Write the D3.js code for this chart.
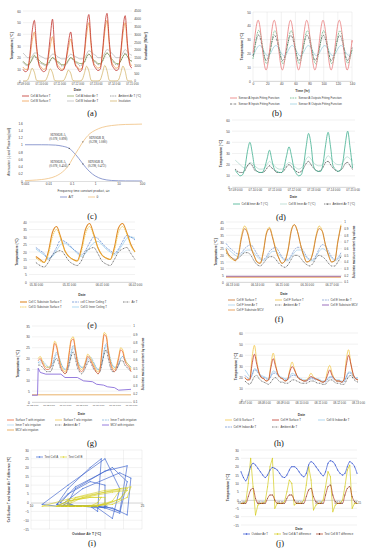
<!DOCTYPE html>
<html>
<head>
<meta charset="utf-8">
<script src="https://cdn.jsdelivr.net/npm/d3@7/dist/d3.min.js"></script>
<style>
  body { margin: 0; background: #fff; }
  svg { display: block; font-family: "Liberation Sans", Arial, sans-serif; }
</style>
</head>
<body>
<svg id="fig" width="371" height="550"></svg>
<script>
// ---------------- data ----------------
// shared 3-hourly time grid (hours from first date label)
var dayHours6 = [0, 24, 48, 72, 96, 120, 144];

// (a) cells A/B, 07-09 .. 07-15
var aDateLabels = ["07-09 0:00", "07-10 0:00", "07-11 0:00", "07-12 0:00", "07-13 0:00", "07-14 0:00", "07-15 0:00"];
var aTempTicks = [0, 10, 20, 30, 40, 50, 60];
var aInsolTicks = [0, 500, 1000, 1500, 2000, 2500, 3000, 3500, 4000, 4500];
var aSurfA = [10,8,9,22,42,52,30,14, 10,8,9,20,38,53,26,13, 10,9,10,19,33,42,27,14,
              11,8,10,24,46,57,33,15, 11,9,10,25,47,58,34,15, 11,9,10,24,45,56,32,14, 11];
var aSurfB = [12,10,10,19,34,42,27,15, 12,10,11,18,30,38,24,15, 12,10,11,18,28,36,25,15,
              12,10,11,22,40,50,30,16, 13,11,12,23,42,52,31,17, 13,11,12,22,40,50,29,16, 13];
var aIndoorA = [17,15,14,15,19,22,20,18, 16,15,14,15,18,20,19,17, 16,14,14,15,18,20,19,17,
                16,15,15,16,21,23,21,18, 17,15,15,17,22,24,22,19, 17,15,15,17,21,23,21,18, 17];
var aIndoorB = [24,22,20,20,21,24,24,22, 21,20,19,19,21,23,23,21, 20,19,19,19,21,23,22,21,
                20,19,19,20,23,26,25,23, 22,20,20,21,24,27,26,24, 22,20,20,21,24,27,25,23, 22];
var aAmbient = [16,14,13,15,18,21,19,16, 15,14,13,14,17,20,18,16, 15,13,13,14,17,20,18,16,
                15,13,14,16,20,23,21,17, 16,14,14,17,21,24,22,18, 16,14,14,17,21,24,21,18, 17];
var aInsolation = [0,0,60,420,820,560,40,0, 0,0,50,380,780,520,30,0, 0,0,50,350,700,500,30,0,
                   0,0,70,480,950,640,50,0, 0,0,70,500,1000,660,50,0, 0,0,60,470,960,620,40,0, 0];

// (b) fitting functions
var bTicksX = [0, 20, 40, 60, 80, 100, 120, 140];
var bTicksY = [0, 10, 20, 30, 40, 50];
var bTime = [0, 1.25, 7, 12.75, 18.5, 24.25, 30, 35.75, 41.5, 47.25, 53, 58.75, 64.5, 70.25, 76,
             81.75, 87.5, 93.25, 99, 104.75, 110.5, 116.25, 122, 127.75, 133.5, 139.25, 140];
var bSensorAIn  = [20,26, 44,26,8,26, 44,26,8,26, 44,26,8,26, 44,26,8,26, 44,26,8,26, 44,26,8,26, 28];
var bSensorAOut = [17,19.5, 36,28,13,21, 36,28,13,21, 36,28,13,21, 36,28,13,21, 36,28,13,21, 36,28,13,21, 22];
var bSensorBIn  = [18.5,21, 33,25.5,15,22.5, 33,25.5,15,22.5, 33,25.5,15,22.5, 33,25.5,15,22.5, 33,25.5,15,22.5, 33,25.5,15,22.5, 23.5];
var bSensorBOut = [19.5,19.5, 25,24.3,19,19.7, 25,24.3,19,19.7, 25,24.3,19,19.7, 25,24.3,19,19.7, 25,24.3,19,19.7, 25,24.3,19,19.7, 20];

// (c) attenuation and phase lag
var cTicksX = [0.001, 0.01, 0.1, 1, 10, 100];
var cTickLabelsX = ["0.001", "0.01", "0.1", "1", "10", "100"];
var cTicksY = [0, 0.2, 0.4, 0.6, 0.8, 1, 1.2, 1.4, 1.6];
var cOmegaTau = [0.001, 0.002, 0.005, 0.01, 0.02, 0.04, 0.078, 0.1, 0.15, 0.2, 0.298, 0.4, 0.6, 1, 2, 5, 10, 20, 50, 100];
var cAttenuation = [1.0, 1.0, 1.0, 0.998, 0.99, 0.96, 0.898, 0.84, 0.72, 0.62, 0.472, 0.37, 0.25, 0.14, 0.055, 0.015, 0.005, 0.002, 0.001, 0];
var cPhaseLag = [0.01, 0.02, 0.04, 0.07, 0.13, 0.25, 0.456, 0.58, 0.77, 0.9, 1.08, 1.19, 1.31, 1.40, 1.48, 1.53, 1.55, 1.56, 1.565, 1.57];
var cNotes = [
  { sensor: "SENSOR A,", coord: "(0.078, 0.898)", wt: 0.078, v: 0.898 },
  { sensor: "SENSOR B,", coord: "(0.298, 1.080)", wt: 0.298, v: 1.080 },
  { sensor: "SENSOR A,", coord: "(0.078, 0.456)", wt: 0.078, v: 0.456 },
  { sensor: "SENSOR B,", coord: "(0.298, 0.472)", wt: 0.298, v: 0.472 }
];

// (d) inner air, 07-09 .. 07-15
var dDateLabels = aDateLabels;
var dTicksY = [0, 10, 20, 30, 40, 50, 60];
var dCellA = [15,12,10,11,18,32,40,30, 17,14,13,13,17,25,33,24, 16,14,13,13,18,28,36,28,
              17,12,10,11,20,36,48,38, 19,15,14,14,22,38,49,36, 19,16,14,15,22,38,50,35, 17];
var dCellB = [24,22,20,18,17,19,22,21, 19,17,16,16,17,20,23,21, 19,17,16,16,17,20,22,21,
              19,17,16,17,20,25,27,25, 22,20,19,19,21,25,28,26, 23,21,20,20,22,26,27,25, 24];
var dAmbient = [16,14,13,13,15,19,21,19, 15,14,13,13,14,17,19,17, 15,13,13,13,15,18,20,18,
                16,14,13,14,17,21,23,20, 17,15,14,15,18,22,23,20, 17,15,14,15,17,21,22,19, 16];

// (e) cells C/D, 05-30 .. 06-02
var eDateLabels = ["05-30 0:00", "05-31 0:00", "06-01 0:00", "06-02 0:00"];
var eTicksY = [0, 5, 10, 15, 20, 25, 30, 35, 40];
var eSurfC = [17,15,13,20,33,37,30,21, 17,15,14,22,35,39,32,23, 18,16,15,23,36,39,33,25, 20];
var eSurfD = [16,14,13,18,30,35,29,21, 17,15,14,20,32,37,31,23, 18,16,15,21,33,37,32,24, 20];
var eCeilC = [23,21,19,15,18,23,28,27, 25,22,20,18,21,26,30,29, 26,23,21,19,22,27,31,30, 28];
var eCeilD = [22,20,18,16,17,21,25,26, 24,22,19,17,19,23,26,27, 25,22,20,18,21,25,29,30, 29];
var eAir   = [13,11,10,13,18,20,21,18, 14,12,11,14,20,22,23,19, 14,12,11,15,20,22,23,19, 15];

// (f) cells E/F, 06-12 18:00 .. 06-17 09:00
var fDateLabels = ["06-13 0:00", "06-14 0:00", "06-15 0:00", "06-16 0:00", "06-17 0:00"];
var fDateHours = [0, 24, 48, 72, 96];
var fTicksY = [0, 5, 10, 15, 20, 25, 30, 35, 40, 45];
var fTicksMcv = [0.1, 0.2, 0.3, 0.4, 0.5, 0.6, 0.7, 0.8, 0.9, 1];
var fSurfE = [25,20,18,16,20,33,40,36,26,20, 15,14,22,36,40,33,24,18, 14,16,24,38,43,38,28,20,
              15,16,22,34,40,38,28,20, 15,16,30,42];
var fSurfF = [24,19,17,16,21,35,42,37,27,20, 15,14,23,37,41,34,25,18, 14,16,25,39,43,38,28,20,
              15,16,23,35,42,38,28,20, 15,16,31,43];
var fInnerE = [29,26,24,22,21,22,25,27,28,25, 21,18,17,19,23,25,26,23, 19,17,17,20,24,26,26,23,
               19,17,17,20,25,28,27,23, 19,17,18,22];
var fInnerF = [26,24,22,20,19,21,23,24,24,22, 19,17,16,18,21,23,23,21, 18,16,16,19,22,24,24,21,
               18,16,16,19,23,25,24,21, 18,16,17,20];
var fAmbient = [22,20,18,17,18,20,22,22,20,16, 13,12,14,17,19,19,17,14, 12,11,13,17,20,20,18,15,
                13,12,14,18,20,19,17,14, 12,12,15,19];
var fMcvHours = [-6, 105];
var fMcvE = [0.185, 0.185];
var fMcvF = [0.172, 0.172];

// (g) irrigation, 07-02 .. 07-08
var gDateLabels = ["07-02 0:00", "07-03 0:00", "07-04 0:00", "07-05 0:00", "07-06 0:00", "07-07 0:00", "07-08 0:00"];
var gTicksY = [0, 5, 10, 15, 20, 25, 30, 35];
var gTicksMcv = [0.1, 0.2, 0.3, 0.4, 0.5, 0.6, 0.7, 0.8, 0.9, 1];
var gSurfIrr = [null,null,null,19,20,18,16,15, 15,16,22,27,25,20,16,14, 13,15,22,28,29,24,18,15,
                14,15,18,21,20,18,16,14, 13,15,24,31,30,23,18,15, 14,16,20,24,23,19,17,16, 14];
var gSurfNo  = [null,null,null,20,21,19,17,16, 16,17,23,28,26,21,17,15, 14,16,23,29,30,25,19,16,
                15,16,19,22,21,19,17,15, 14,16,25,32,31,24,19,16, 15,17,21,25,24,20,18,17, 15];
var gInnerIrr = [null,null,null,18,19,19,18,17, 16,16,18,21,23,21,18,16, 15,16,19,23,26,24,20,17,
                 16,16,18,20,21,20,18,16, 15,16,19,24,27,24,20,17, 16,16,18,20,21,20,18,17, 16];
var gInnerNo  = [null,null,null,18,18,18,17,16, 16,16,17,20,22,21,18,16, 15,15,18,22,25,23,19,17,
                 16,16,17,19,20,19,18,16, 15,15,18,23,26,23,19,17, 16,16,17,20,21,19,18,17, 16];
var gAmbient  = [null,null,null,17,17,16,15,14, 14,14,16,19,20,18,15,14, 13,14,17,21,23,20,16,14,
                 13,14,16,18,19,17,15,14, 13,14,18,22,24,20,16,14, 14,15,17,19,19,17,16,15, 14];
var gMcvIrrHours = [0, 8, 9, 12, 20, 42, 48, 66, 75, 88, 94, 104, 110, 120, 126, 144];
var gMcvIrr = [0.18, 0.18, 0.50, 0.45, 0.43, 0.43, 0.39, 0.39, 0.35, 0.34, 0.31, 0.30, 0.28, 0.27, 0.24, 0.25];
var gMcvNoHours = [0, 144];
var gMcvNo = [0.185, 0.185];

// (h) cells G/H, 08-07 .. 08-13
var hDateLabels = ["08-07 0:00", "08-08 0:00", "08-09 0:00", "08-10 0:00", "08-11 0:00", "08-12 0:00", "08-13 0:00"];
var hTicksY = [0, 10, 20, 30, 40, 50, 60];
var hSurfG = [20,18,19,38,49,35,24,20, 19,17,18,32,42,32,23,20, 19,17,18,27,34,28,22,19,
              18,17,18,20,24,21,19,18, 17,16,17,26,31,24,19,17, 17,16,18,36,45,32,22,19, 18];
var hSurfH = [20,18,18,32,41,32,24,20, 19,17,18,29,37,30,23,20, 19,17,18,25,30,27,22,19,
              18,17,17,19,21,20,19,18, 17,16,17,22,27,22,19,17, 17,16,18,31,40,32,23,19, 18];
var hIndoorG = [27,24,21,23,28,27,24,22, 21,20,19,22,26,25,23,21, 20,19,19,21,24,23,22,20,
                19,18,18,19,20,20,19,19, 18,17,17,19,21,21,19,18, 18,17,17,21,25,25,22,20, 20];
var hIndoorH = [22,20,19,22,27,26,23,21, 20,19,18,21,24,24,22,20, 19,18,18,20,22,22,21,19,
                18,17,17,18,19,19,18,18, 17,16,16,18,20,20,18,17, 17,16,16,20,24,24,21,19, 19];
var hAmbient = [17,15,14,17,21,22,19,17, 16,15,14,16,19,20,18,16, 16,15,15,16,18,18,17,16,
                15,15,15,16,17,17,16,15, 15,14,14,16,18,18,16,15, 15,14,14,17,21,22,19,17, 16];

// (i)/(j) outdoor air and cell temperature differences, 07-09 .. 07-15
var jDateLabels = ["07-09", "07-10", "07-11", "07-12", "07-13", "07-14", "07-15"];
var jTicksY = [-15, -10, -5, 0, 5, 10, 15, 20, 25, 30];
var iTicksX = [10, 15, 20, 25];
var iGridX = [10, 12.5, 15, 17.5, 20, 22.5, 25];
var jOutdoor = [17,13.5,11.5,15,20,22,21,19, 17,15,13.5,15,18,19.5,19,18, 16,14,13.5,15,18,20,20,19,
                17,15,14,16,21,23,22,20, 18,16,14.5,17,22,23.5,23,21, 18,16,15,16,20,23,22,20, 16];
var jDiffA = [-2,-2,-1,10,25,8,-9,-3, -2,-2,-1,8,20,25,-5,-2, -2,-2,-1,5,12,10,-3,-2,
              -2,-2,0,9,20,12,-6,-3, -2,-2,0,8,17,14,-7,-3, -2,-2,0,8,18,21,-5,-2, -2];
var jDiffB = [-2,-2,-2,2,6,7,1,-2, -2,-2,-2,1,3,3,0,-2, -2,-2,-2,1,3,3,0,-2,
              -2,-2,-2,2,6,7,2,-1, -2,-2,-2,3,8,9,3,-1, -2,-2,-2,3,7,8,2,-1, -2];

// ---------------- helpers ----------------
var svg = d3.select("#fig");
var INK = "#404040", GRID = "#d9d9d9", AXISLINE = "#bfbfbf";
var TICK = 3.2, LEG = 3.0, TITLE = 3.4;

function hours(vals, start, step) {
    return vals.map(function (v, i) { return start + i * step; });
}

function hGrid(g, y, vals, x0, x1) {
    g.append("g").selectAll("line").data(vals).enter().append("line")
        .attr("x1", x0).attr("x2", x1)
        .attr("y1", function (d) { return y(d); }).attr("y2", function (d) { return y(d); })
        .attr("stroke", GRID).attr("stroke-width", 0.35);
}

function vGrid(g, x, vals, y0, y1) {
    g.append("g").selectAll("line").data(vals).enter().append("line")
        .attr("y1", y0).attr("y2", y1)
        .attr("x1", function (d) { return x(d); }).attr("x2", function (d) { return x(d); })
        .attr("stroke", GRID).attr("stroke-width", 0.35);
}

function yAxis(g, y, vals, xpos, side, size) {
    var axis = (side === "right" ? d3.axisRight(y) : d3.axisLeft(y))
        .tickValues(vals).tickSize(0).tickPadding(1.2).tickFormat(d3.format(""));
    var a = g.append("g").attr("transform", "translate(" + xpos + ",0)").call(axis);
    a.attr("font-family", null).attr("font-size", null);
    a.select(".domain").remove();
    a.selectAll("text").attr("font-size", size || TICK).attr("fill", INK);
    return a;
}

function xAxis(g, x, vals, labels, ypos, size) {
    var axis = d3.axisBottom(x).tickValues(vals).tickSize(1).tickSizeOuter(0).tickPadding(0.8)
        .tickFormat(function (d, i) { return labels[i]; });
    var a = g.append("g").attr("transform", "translate(0," + ypos + ")").call(axis);
    a.attr("font-family", null).attr("font-size", null);
    a.select(".domain").attr("stroke", AXISLINE).attr("stroke-width", 0.5);
    a.selectAll(".tick line").attr("stroke", AXISLINE).attr("stroke-width", 0.4);
    a.selectAll("text").attr("font-size", size || TICK).attr("fill", INK);
    return a;
}

function plotLine(g, x, y, xs, ys, st) {
    var pts = [];
    ys.forEach(function (v, i) { if (v !== null) pts.push([xs[i], v]); });
    var gen = d3.line().curve(st.curve || d3.curveMonotoneX)
        .x(function (p) { return x(p[0]); }).y(function (p) { return y(p[1]); });
    g.append("path").attr("d", gen(pts)).attr("fill", "none")
        .attr("stroke", st.color).attr("stroke-width", st.w || 0.6)
        .attr("stroke-dasharray", st.dash || null).attr("stroke-linejoin", "round");
    if (st.dot) {
        g.append("g").selectAll("circle").data(pts).enter().append("circle")
            .attr("cx", function (p) { return x(p[0]); }).attr("cy", function (p) { return y(p[1]); })
            .attr("r", st.dot).attr("fill", st.dotColor || st.color);
    }
}

function legend(g, items, pos, size) {
    items.forEach(function (it, i) {
        var px = pos[i][0], py = pos[i][1];
        g.append("line").attr("x1", px).attr("x2", px + 7).attr("y1", py).attr("y2", py)
            .attr("stroke", it.color).attr("stroke-width", it.w || 0.7)
            .attr("stroke-dasharray", it.dash || null);
        if (it.dot) {
            g.append("circle").attr("cx", px + 3.5).attr("cy", py).attr("r", it.dot + 0.2)
                .attr("fill", it.dotColor || it.color);
        }
        g.append("text").attr("x", px + 8.5).attr("y", py).attr("dy", "0.35em")
            .attr("font-size", size || LEG).attr("fill", INK).text(it.name);
    });
}

function title(g, text, x, y, rotate, bold, size) {
    g.append("text")
        .attr("transform", "translate(" + x + "," + y + ")" + (rotate ? " rotate(-90)" : ""))
        .attr("text-anchor", "middle").attr("dy", "0.35em")
        .attr("font-size", size || TITLE).attr("font-weight", bold === false ? null : "bold")
        .attr("fill", INK).text(text);
}

function caption(text, x, y) {
    svg.append("text").attr("x", x).attr("y", y).attr("text-anchor", "middle")
        .attr("font-family", "'Liberation Serif', 'DejaVu Serif', serif")
        .attr("font-size", 8.5).attr("fill", "#111").text(text);
}

// ---------------- (a) ----------------
(function () {
    var L = 23, R = 132, T = 11, B = 81;
    var g = svg.append("g");
    var x = d3.scaleLinear().domain([0, 144]).range([L, R]);
    var y = d3.scaleLinear().domain([0, 60]).range([B, T]);
    var y2 = d3.scaleLinear().domain([0, 4500]).range([B, T]);
    hGrid(g, y, aTempTicks, L, R);
    yAxis(g, y, aTempTicks, L - 1, "left");
    yAxis(g, y2, aInsolTicks, R + 1, "right", 3);
    var xs = hours(aSurfA, 0, 3);
    var st = {
        surfA: { name: "Cell A Surface T", color: "#c0302a", w: 0.8 },
        surfB: { name: "Cell B Surface T", color: "#f0a050", w: 0.8 },
        inA: { name: "Cell A Indoor Air T", color: "#6b8a2e", w: 0.6 },
        inB: { name: "Cell B Indoor Air T", color: "#a6a6a6", w: 0.6 },
        amb: { name: "Ambient Air T (°C)", color: "#404040", w: 0.5, dash: "1.5,0.8" },
        ins: { name: "Insolation", color: "#c8a040", w: 0.6 }
    };
    plotLine(g, x, y2, xs, aInsolation, st.ins);
    plotLine(g, x, y, xs, aIndoorB, st.inB);
    plotLine(g, x, y, xs, aAmbient, st.amb);
    plotLine(g, x, y, xs, aIndoorA, st.inA);
    plotLine(g, x, y, xs, aSurfB, st.surfB);
    plotLine(g, x, y, xs, aSurfA, st.surfA);
    xAxis(g, x, dayHours6, aDateLabels, B, 2.6);
    title(g, "Temperature [°C]", 12, (T + B) / 2, true);
    title(g, "Insolation [W/m²]", 146, (T + B) / 2, true);
    title(g, "Date", (L + R) / 2, 90);
    legend(g, [st.surfA, st.inA, st.amb, st.surfB, st.inB, st.ins],
        [[22, 96], [67, 96], [110, 96], [22, 101], [67, 101], [110, 101]], 2.8);
})();
caption("(a)", 92, 116);

// ---------------- (b) ----------------
(function () {
    var L = 253, R = 352, T = 12, B = 81;
    var g = svg.append("g");
    var x = d3.scaleLinear().domain([0, 140]).range([L, R]);
    var y = d3.scaleLinear().domain([0, 50]).range([B, T]);
    hGrid(g, y, bTicksY, L, R);
    vGrid(g, x, bTicksX, T, B);
    yAxis(g, y, bTicksY, L - 1, "left");
    var st = {
        aIn: { name: "Sensor A Inputs Fitting Function", color: "#e87a7a", w: 0.8, curve: d3.curveNatural },
        aOut: { name: "Sensor A Outputs Fitting Function", color: "#3a9a5c", w: 0.6, dash: "1.6,0.8", curve: d3.curveNatural },
        bIn: { name: "Sensor B Inputs Fitting Function", color: "#222", w: 0.6, dash: "2,0.8,0.6,0.8", curve: d3.curveNatural },
        bOut: { name: "Sensor B Outputs Fitting Function", color: "#9fd0e0", w: 0.8, curve: d3.curveNatural }
    };
    plotLine(g, x, y, bTime, bSensorBOut, st.bOut);
    plotLine(g, x, y, bTime, bSensorBIn, st.bIn);
    plotLine(g, x, y, bTime, bSensorAOut, st.aOut);
    plotLine(g, x, y, bTime, bSensorAIn, st.aIn);
    xAxis(g, x, bTicksX, bTicksX.map(String), B);
    title(g, "Temperature (°C)", 242, (T + B) / 2, true);
    title(g, "Time (hr)", (L + R) / 2, 91);
    legend(g, [st.aIn, st.aOut, st.bIn, st.bOut],
        [[230, 98], [290, 98], [230, 104], [290, 104]], 2.9);
})();
caption("(b)", 277, 116);

// ---------------- (c) ----------------
(function () {
    var L = 25, R = 142, T = 123, B = 181;
    var g = svg.append("g");
    var x = d3.scaleLog().domain([0.001, 100]).range([L, R]);
    var y = d3.scaleLinear().domain([0, 1.6]).range([B, T]);
    yAxis(g, y, cTicksY, L - 1, "left");
    var st = {
        att: { name: "A/T", color: "#7484c4", w: 0.8, curve: d3.curveMonotoneX },
        ph: { name: "θ", color: "#f0c080", w: 0.8, curve: d3.curveMonotoneX }
    };
    plotLine(g, x, y, cOmegaTau, cAttenuation, st.att);
    plotLine(g, x, y, cOmegaTau, cPhaseLag, st.ph);
    xAxis(g, x, cTicksX, cTickLabelsX, B);
    // point annotations
    var off = [[-11, -12, "middle"], [6, -3, "start"], [-11, -1, "middle"], [5, -1, "start"]];
    cNotes.forEach(function (n, i) {
        var px = x(n.wt), py = y(n.v);
        g.append("circle").attr("cx", px).attr("cy", py).attr("r", 0.6).attr("fill", "#555");
        var t = g.append("text").attr("x", px + off[i][0]).attr("y", py + off[i][1])
            .attr("text-anchor", off[i][2])
            .attr("font-family", "'Liberation Serif', serif").attr("font-size", 3.2).attr("fill", "#333");
        t.append("tspan").attr("x", px + off[i][0]).text(n.sensor);
        t.append("tspan").attr("x", px + off[i][0]).attr("dy", 3.8).text(n.coord);
    });
    title(g, "Attenuation (-) and Phase lag [rad]", 9, (T + B) / 2, true, false, 3.1);
    title(g, "Frequency time constant product, ωτ", (L + R) / 2, 191, false, false, 3.2);
    legend(g, [st.att, st.ph], [[60, 197], [88, 197]], 3.2);
})();
caption("(c)", 92, 219);

// ---------------- (d) ----------------
(function () {
    var L = 232, R = 355, T = 120, B = 187;
    var g = svg.append("g");
    var x = d3.scaleLinear().domain([-4, 147]).range([L, R]);
    var y = d3.scaleLinear().domain([0, 60]).range([B, T]);
    hGrid(g, y, dTicksY, L, R);
    yAxis(g, y, dTicksY, L - 1, "left");
    var xs = hours(dCellA, 0, 3);
    var st = {
        a: { name: "Cell A Inner Air T (°C)", color: "#3fae8e", w: 0.8 },
        b: { name: "Cell B Inner Air T (°C)", color: "#b4d9cf", w: 0.8 },
        amb: { name: "Ambient Air T (°C)", color: "#333", w: 0.6, dash: "1.4,0.7", dot: 0.35 }
    };
    plotLine(g, x, y, xs, dCellB, st.b);
    plotLine(g, x, y, xs, dAmbient, st.amb);
    plotLine(g, x, y, xs, dCellA, st.a);
    xAxis(g, x, dayHours6, dDateLabels, B, 2.8);
    title(g, "Temperature [°C]", 221, (T + B) / 2, true);
    title(g, "Date", (L + R) / 2, 197);
    legend(g, [st.a, st.b, st.amb], [[233, 204], [280, 204], [324, 204]], 2.8);
})();
caption("(d)", 281, 220);

// ---------------- (e) ----------------
(function () {
    var L = 29, R = 135, T = 222, B = 282;
    var g = svg.append("g");
    var x = d3.scaleLinear().domain([-5, 72]).range([L, R]);
    var y = d3.scaleLinear().domain([0, 40]).range([B, T]);
    hGrid(g, y, eTicksY, L, R);
    yAxis(g, y, eTicksY, L - 1, "left");
    var xs = hours(eSurfC, 0, 3);
    var st = {
        sc: { name: "Cell C Substrate Surface T", color: "#e08a28", w: 1.1 },
        cc: { name: "cell C Inner Ceiling T", color: "#3a6cc8", w: 0.6, dash: "2.2,0.9" },
        air: { name: "Air T", color: "#222", w: 0.6, dash: "1.6,0.7,0.5,0.7" },
        sd: { name: "Cell D Substrate Surface T", color: "#ecc035", w: 0.7, dash: "1.6,0.6" },
        cd: { name: "Cell D Inner Ceiling T", color: "#8cc8ec", w: 0.7 }
    };
    plotLine(g, x, y, xs, eCeilD, st.cd);
    plotLine(g, x, y, xs, eCeilC, st.cc);
    plotLine(g, x, y, xs, eAir, st.air);
    plotLine(g, x, y, xs, eSurfC, st.sc);
    plotLine(g, x, y, xs, eSurfD, st.sd);
    xAxis(g, x, [0, 24, 48, 72], eDateLabels, B, 2.8);
    title(g, "Temperature (°C)", 17, (T + B) / 2, true);
    title(g, "Date", (L + R) / 2, 295);
    legend(g, [st.sc, st.cc, st.air, st.sd, st.cd],
        [[20, 302], [72, 302], [123, 302], [20, 307], [72, 307]], 2.8);
})();
caption("(e)", 92, 328);

// ---------------- (f) ----------------
(function () {
    var L = 226, R = 342, T = 222, B = 282;
    var g = svg.append("g");
    var x = d3.scaleLinear().domain([-6, 106]).range([L, R]);
    var y = d3.scaleLinear().domain([0, 45]).range([B, T]);
    var y2 = d3.scaleLinear().domain([0.1, 1]).range([B, T]);
    hGrid(g, y, fTicksY, L, R);
    yAxis(g, y, fTicksY, L - 1, "left");
    yAxis(g, y2, fTicksMcv, R + 1, "right", 3);
    var xs = hours(fSurfE, -6, 3);
    var st = {
        se: { name: "Cell E Surface T", color: "#c8702a", w: 0.8 },
        sf: { name: "Cell F Surface T", color: "#f0c040", w: 0.8 },
        ie: { name: "Cell E Inner Air T", color: "#5b7fc4", w: 0.6, dash: "2,0.8" },
        inf: { name: "Cell F Inner Air T", color: "#9cc8e8", w: 0.7 },
        amb: { name: "Ambient Air T", color: "#222", w: 0.6, dash: "1.6,0.7,0.5,0.7" },
        me: { name: "Cell E Substrate MCV", color: "#7030a0", w: 0.7, curve: d3.curveLinear },
        mf: { name: "Cell F Substrate MCV", color: "#e08020", w: 0.7, curve: d3.curveLinear }
    };
    plotLine(g, x, y2, fMcvHours, fMcvE, st.me);
    plotLine(g, x, y2, fMcvHours, fMcvF, st.mf);
    plotLine(g, x, y, xs, fInnerF, st.inf);
    plotLine(g, x, y, xs, fInnerE, st.ie);
    plotLine(g, x, y, xs, fAmbient, st.amb);
    plotLine(g, x, y, xs, fSurfF, st.sf);
    plotLine(g, x, y, xs, fSurfE, st.se);
    xAxis(g, x, fDateHours, fDateLabels, B, 2.8);
    title(g, "Temperature [°C]", 216, (T + B) / 2, true);
    title(g, "Substrate moisture content by volume", 354, (T + B) / 2, true, true, 2.9);
    title(g, "Date", 284, 294);
    legend(g, [st.se, st.sf, st.ie, st.inf, st.amb, st.me, st.mf],
        [[228, 300], [275, 300], [322, 300], [228, 305], [275, 305], [322, 305], [228, 310]], 2.8);
})();
caption("(f)", 279, 322);

// ---------------- (g) ----------------
(function () {
    var L = 32, R = 131, T = 326, B = 402;
    var g = svg.append("g");
    var x = d3.scaleLinear().domain([0, 144]).range([L, R]);
    var y = d3.scaleLinear().domain([0, 35]).range([B, T]);
    var y2 = d3.scaleLinear().domain([0.1, 1]).range([B, T]);
    hGrid(g, y, gTicksY, L, R);
    yAxis(g, y, gTicksY, L - 1, "left");
    yAxis(g, y2, gTicksMcv, R + 1, "right", 3);
    var xs = hours(gSurfIrr, 0, 3);
    var st = {
        si: { name: "Surface T with irrigation", color: "#e8643a", w: 0.8 },
        sn: { name: "Surface T w/o irrigation", color: "#f2c84a", w: 0.8 },
        ii: { name: "Inner T with irrigation", color: "#5aa0d0", w: 0.6, dash: "2,0.8" },
        inn: { name: "Inner T w/o irrigation", color: "#a8d0ec", w: 0.7 },
        amb: { name: "Ambient Air T", color: "#222", w: 0.6, dash: "1.6,0.7,0.5,0.7" },
        mi: { name: "MCV with irrigation", color: "#7b5cd6", w: 0.8, curve: d3.curveLinear },
        mn: { name: "MCV w/o irrigation", color: "#e0902a", w: 0.7, curve: d3.curveLinear }
    };
    plotLine(g, x, y2, gMcvNoHours, gMcvNo, st.mn);
    plotLine(g, x, y2, gMcvIrrHours, gMcvIrr, st.mi);
    plotLine(g, x, y, xs, gInnerNo, st.inn);
    plotLine(g, x, y, xs, gInnerIrr, st.ii);
    plotLine(g, x, y, xs, gAmbient, st.amb);
    plotLine(g, x, y, xs, gSurfNo, st.sn);
    plotLine(g, x, y, xs, gSurfIrr, st.si);
    xAxis(g, x, dayHours6, gDateLabels, B, 2.4);
    title(g, "Temperature [°C]", 18, (T + B) / 2, true);
    title(g, "Substrate moisture content by volume", 143, (T + B) / 2, true, true, 2.9);
    title(g, "Date", (L + R) / 2, 414);
    legend(g, [st.si, st.sn, st.ii, st.inn, st.amb, st.mi, st.mn],
        [[7, 420], [55, 420], [102, 420], [7, 425], [55, 425], [102, 425], [7, 430]], 2.8);
})();
caption("(g)", 92, 446);

// ---------------- (h) ----------------
(function () {
    var L = 245, R = 358, T = 333, B = 400;
    var g = svg.append("g");
    var x = d3.scaleLinear().domain([0, 144]).range([L, R]);
    var y = d3.scaleLinear().domain([0, 60]).range([B, T]);
    hGrid(g, y, hTicksY, L, R);
    yAxis(g, y, hTicksY, L - 1, "left");
    var xs = hours(hSurfG, 0, 3);
    var st = {
        sg: { name: "Cell G Surface T", color: "#f2c84a", w: 0.8 },
        sh: { name: "Cell H Surface T", color: "#c0392b", w: 0.8 },
        ig: { name: "Cell G Indoor Air T", color: "#8ec4e6", w: 0.7 },
        ih: { name: "Cell H Indoor Air T", color: "#4472c4", w: 0.6, dash: "2,0.8" },
        amb: { name: "Ambient Air T", color: "#222", w: 0.6, dash: "1.6,0.7,0.5,0.7" }
    };
    plotLine(g, x, y, xs, hIndoorG, st.ig);
    plotLine(g, x, y, xs, hIndoorH, st.ih);
    plotLine(g, x, y, xs, hAmbient, st.amb);
    plotLine(g, x, y, xs, hSurfG, st.sg);
    plotLine(g, x, y, xs, hSurfH, st.sh);
    xAxis(g, x, dayHours6, hDateLabels, B, 2.7);
    title(g, "Temperature [°C]", 236, (T + B) / 2, true);
    title(g, "Date", (L + R) / 2, 415);
    legend(g, [st.sg, st.sh, st.ig, st.ih, st.amb],
        [[225, 420], [272, 420], [318, 420], [225, 427], [272, 427]], 2.8);
})();
caption("(h)", 279, 446);

// ---------------- (i) ----------------
(function () {
    var L = 31, R = 142, T = 450, B = 529;
    var g = svg.append("g");
    var x = d3.scaleLinear().domain([10, 25]).range([L, R]);
    var y = d3.scaleLinear().domain([-15, 30]).range([B, T]);
    hGrid(g, y, jTicksY, L, R);
    vGrid(g, x, iGridX, T, B);
    yAxis(g, y, jTicksY, L - 1, "left");
    xAxis(g, x, iTicksX, iTicksX.map(String), y(0));
    var st = {
        a: { name: "Test Cell A", color: "#2a52c8", w: 0.6, dot: 0.55, dotColor: "#4a7ee0", curve: d3.curveLinear },
        b: { name: "Test Cell B", color: "#d4cc1c", w: 0.6, dot: 0.55, dotColor: "#e0d830", curve: d3.curveLinear }
    };
    plotLine(g, x, y, jOutdoor, jDiffA, st.a);
    plotLine(g, x, y, jOutdoor, jDiffB, st.b);
    title(g, "Cell Surface T and Indoor Air T difference [°C]", 9, (T + B) / 2, true, true, 3.0);
    title(g, "Outdoor Air T [°C]", (L + R) / 2, 534);
    legend(g, [st.a, st.b], [[36, 457], [60, 457]], 2.9);
})();
caption("(i)", 92, 546);

// ---------------- (j) ----------------
(function () {
    var L = 241, R = 357, T = 450, B = 525;
    var g = svg.append("g");
    var x = d3.scaleLinear().domain([0, 144]).range([L, R]);
    var y = d3.scaleLinear().domain([-15, 30]).range([B, T]);
    hGrid(g, y, jTicksY, L, R);
    yAxis(g, y, jTicksY, L - 1, "left");
    xAxis(g, x, dayHours6, jDateLabels, y(0), 2.8);
    var xs = hours(jOutdoor, 0, 3);
    var st = {
        out: { name: "Outdoor Air T", color: "#3050d0", w: 0.7, dot: 0.5 },
        a: { name: "Test Cell A T difference", color: "#d4cc1c", w: 0.7, dot: 0.5, curve: d3.curveLinear },
        b: { name: "Test Cell B T difference", color: "#b03a1a", w: 0.7, dot: 0.45, dotColor: "#3a1a10" }
    };
    plotLine(g, x, y, xs, jDiffA, st.a);
    plotLine(g, x, y, xs, jDiffB, st.b);
    plotLine(g, x, y, xs, jOutdoor, st.out);
    title(g, "Temperature [°C]", 228, (T + B) / 2, true);
    title(g, "Date", (L + R) / 2, 529);
    legend(g, [st.out, st.a, st.b], [[243, 534], [274, 534], [316, 534]], 2.8);
})();
caption("(j)", 280, 546);
</script>
</body>
</html>
